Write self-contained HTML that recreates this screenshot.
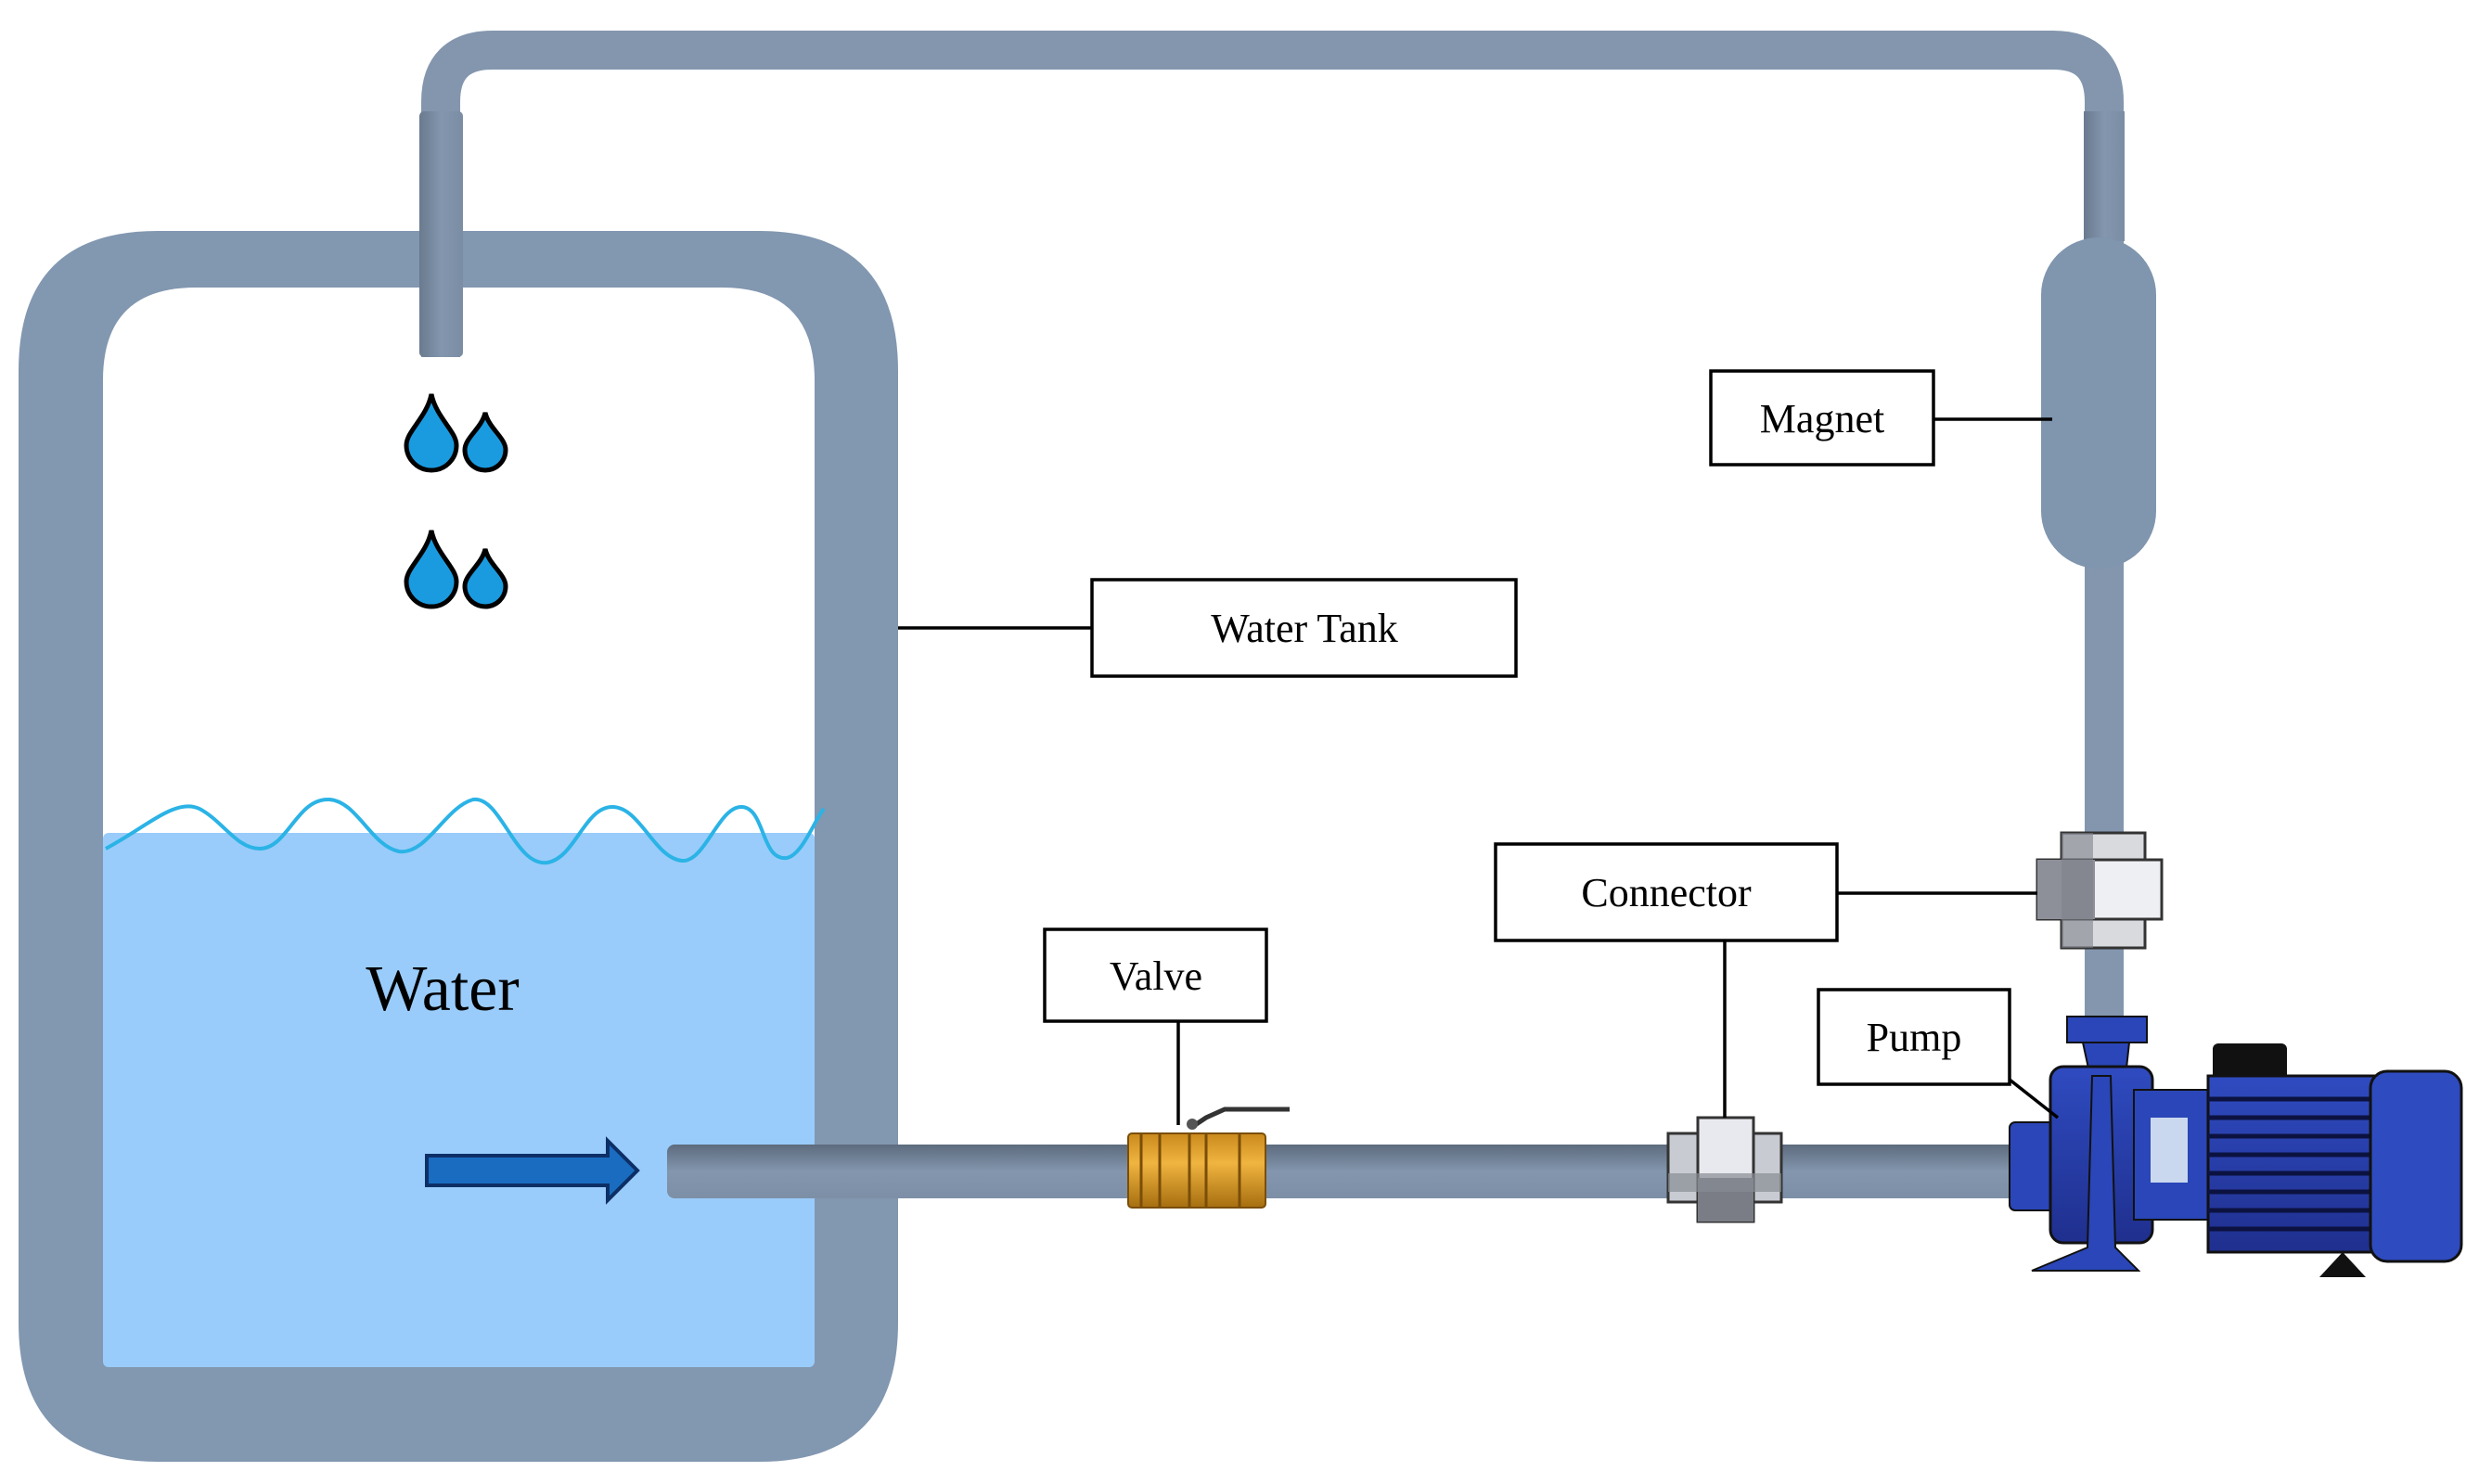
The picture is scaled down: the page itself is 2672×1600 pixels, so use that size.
<!DOCTYPE html>
<html><head><meta charset="utf-8"><style>
html,body{margin:0;padding:0;background:#fff}
svg{display:block}
text{font-family:"Liberation Serif",serif;fill:#000}
</style></head><body>
<svg width="2672" height="1600" viewBox="0 0 2672 1600" xmlns="http://www.w3.org/2000/svg">
<defs>
<linearGradient id="pv" x1="0" y1="0" x2="0" y2="1"><stop offset="0" stop-color="#5d6b7d"/><stop offset="0.5" stop-color="#8396ae"/><stop offset="1" stop-color="#7d8fa6"/></linearGradient>
<linearGradient id="ph" x1="0" y1="0" x2="1" y2="0"><stop offset="0" stop-color="#6a7a8e"/><stop offset="0.5" stop-color="#8396ae"/><stop offset="1" stop-color="#7b8da4"/></linearGradient>
<linearGradient id="brass" x1="0" y1="0" x2="0" y2="1"><stop offset="0" stop-color="#c98a1c"/><stop offset="0.4" stop-color="#f0b440"/><stop offset="1" stop-color="#a66e10"/></linearGradient>
<linearGradient id="blue" x1="0" y1="0" x2="0" y2="1"><stop offset="0" stop-color="#2f4bc0"/><stop offset="1" stop-color="#1f2f8e"/></linearGradient>
</defs>
<!-- tank -->
<path d="M20,400 Q20,249 170,249 L818,249 Q968,249 968,400 L968,1426 Q968,1576 818,1576 L170,1576 Q20,1576 20,1426 Z" fill="#8297b0"/>
<path d="M111,410 Q111,310 211,310 L778,310 Q878,310 878,410 L878,1466 Q878,1474 870,1474 L119,1474 Q111,1474 111,1466 Z" fill="#fff"/>
<rect x="111" y="898" width="767" height="576" rx="6" fill="#99ccfa"/>
<path d="M114,915 C160,890 190,860 215,872 C240,885 255,915 280,915 C310,915 320,860 355,862 C385,864 400,912 430,918 C460,922 480,870 510,862 C540,858 555,935 590,930 C620,925 630,870 660,870 C690,870 705,925 735,928 C760,930 775,868 800,870 C825,872 820,928 848,925 C865,922 880,880 888,872" fill="none" stroke="#2bb3e6" stroke-width="4"/>
<text x="477" y="1089" font-size="70" text-anchor="middle">Water</text>
<!-- drops -->
<g fill="#1a9be0" stroke="#000" stroke-width="5">
<path d="M465,425 C470,450 492,465 492,480 A27,27 0 0 1 438,480 C438,465 460,450 465,425Z"/>
<path d="M523,445 C527,462 545,472 545,485 A22,22 0 0 1 501,485 C501,472 519,462 523,445Z"/>
<path d="M465,572 C470,597 492,612 492,627 A27,27 0 0 1 438,627 C438,612 460,597 465,572Z"/>
<path d="M523,592 C527,609 545,619 545,632 A22,22 0 0 1 501,632 C501,619 519,609 523,592Z"/>
</g>
<!-- arrow -->
<path d="M460,1246 L655,1246 L655,1230 L687,1262 L655,1294 L655,1278 L460,1278 Z" fill="#1a6cc0" stroke="#0d2f66" stroke-width="4"/>
<!-- top pipe -->
<path d="M475,385 L475,110 Q475,54 531,54 L2213,54 Q2268,54 2268,110 L2268,1100" fill="none" stroke="#8396ae" stroke-width="42"/>
<rect x="452" y="120" width="47" height="265" rx="5" fill="url(#ph)"/>
<rect x="2246" y="120" width="44" height="140" fill="url(#ph)"/>
<!-- magnet -->
<rect x="2200" y="256" width="124" height="357" rx="62" fill="#8095ae"/>
<!-- bottom pipe -->
<rect x="719" y="1234" width="1460" height="58" rx="8" fill="url(#pv)"/>
<!-- valve -->
<g>
<rect x="1216" y="1222" width="148" height="80" rx="4" fill="url(#brass)" stroke="#7a4e08" stroke-width="2"/>
<path d="M1230,1222 V1302 M1282,1222 V1302 M1300,1222 V1302 M1336,1222 V1302 M1250,1222 V1302" stroke="#7a4e08" stroke-width="3"/>
<path d="M1285,1215 L1300,1205 L1320,1196 L1390,1196" stroke="#333" stroke-width="5" fill="none"/>
<circle cx="1285" cy="1212" r="6" fill="#555"/>
</g>
<!-- connector bottom -->
<g>
<rect x="1798" y="1222" width="122" height="74" fill="#c8cbd2" stroke="#333" stroke-width="3"/>
<rect x="1830" y="1205" width="60" height="112" fill="#e8e9ee" stroke="#333" stroke-width="3"/>
<rect x="1830" y="1270" width="60" height="47" fill="#7a7d85"/>
<rect x="1798" y="1265" width="122" height="20" fill="#888b93" opacity=".7"/>
</g>
<!-- connector right -->
<g>
<rect x="2222" y="898" width="90" height="124" fill="#d8dade" stroke="#333" stroke-width="3"/>
<rect x="2196" y="927" width="134" height="64" fill="#eeeff2" stroke="#333" stroke-width="3"/>
<rect x="2196" y="927" width="62" height="64" fill="#8d9098"/>
<rect x="2222" y="898" width="34" height="124" fill="#7f828a" opacity=".6"/>
</g>
<!-- pump -->
<g>
<rect x="2228" y="1096" width="86" height="28" fill="#2a46b8" stroke="#111" stroke-width="2"/>
<path d="M2245,1124 L2295,1124 L2290,1170 L2255,1170 Z" fill="#2a46b8" stroke="#111" stroke-width="2"/>
<rect x="2166" y="1210" width="50" height="95" rx="6" fill="#2a46b8" stroke="#111" stroke-width="2"/>
<rect x="2210" y="1150" width="110" height="190" rx="14" fill="url(#blue)" stroke="#111" stroke-width="3"/>
<path d="M2255,1160 L2275,1160 L2280,1345 L2305,1370 L2190,1370 L2250,1345 Z" fill="#2a46b8" stroke="#111" stroke-width="2"/>
<rect x="2300" y="1175" width="90" height="140" fill="#2a46b8" stroke="#111" stroke-width="2"/>
<rect x="2318" y="1205" width="40" height="70" fill="#c9d8ee"/>
<rect x="2385" y="1125" width="80" height="40" rx="6" fill="#111"/>
<rect x="2380" y="1160" width="180" height="190" fill="url(#blue)" stroke="#111" stroke-width="3"/>
<g stroke="#0c1240" stroke-width="5">
<path d="M2380,1185H2560M2380,1205H2560M2380,1225H2560M2380,1245H2560M2380,1265H2560M2380,1285H2560M2380,1305H2560M2380,1325H2560"/>
</g>
<rect x="2555" y="1155" width="98" height="205" rx="18" fill="#2f4bc0" stroke="#111" stroke-width="3"/>
<path d="M2500,1377 L2525,1350 L2550,1377 Z" fill="#111"/>
</g>
<!-- labels -->
<g fill="#fff" stroke="#000" stroke-width="3.5">
<rect x="1844" y="400" width="240" height="101"/>
<rect x="1177" y="625" width="457" height="104"/>
<rect x="1612" y="910" width="368" height="104"/>
<rect x="1126" y="1002" width="239" height="99"/>
<rect x="1960" y="1067" width="206" height="102"/>
</g>
<g stroke="#000" stroke-width="3.5" fill="none">
<path d="M2084,452 H2212"/>
<path d="M968,677 H1177"/>
<path d="M1980,963 H2196"/>
<path d="M1859,1014 V1205"/>
<path d="M1270,1101 V1213"/>
<path d="M2166,1164 L2218,1205"/>
</g>
<g font-size="44" text-anchor="middle">
<text x="1964" y="466">Magnet</text>
<text x="1406" y="692">Water Tank</text>
<text x="1796" y="977">Connector</text>
<text x="1246" y="1067">Valve</text>
<text x="2063" y="1133">Pump</text>
</g>
</svg>
</body></html>
